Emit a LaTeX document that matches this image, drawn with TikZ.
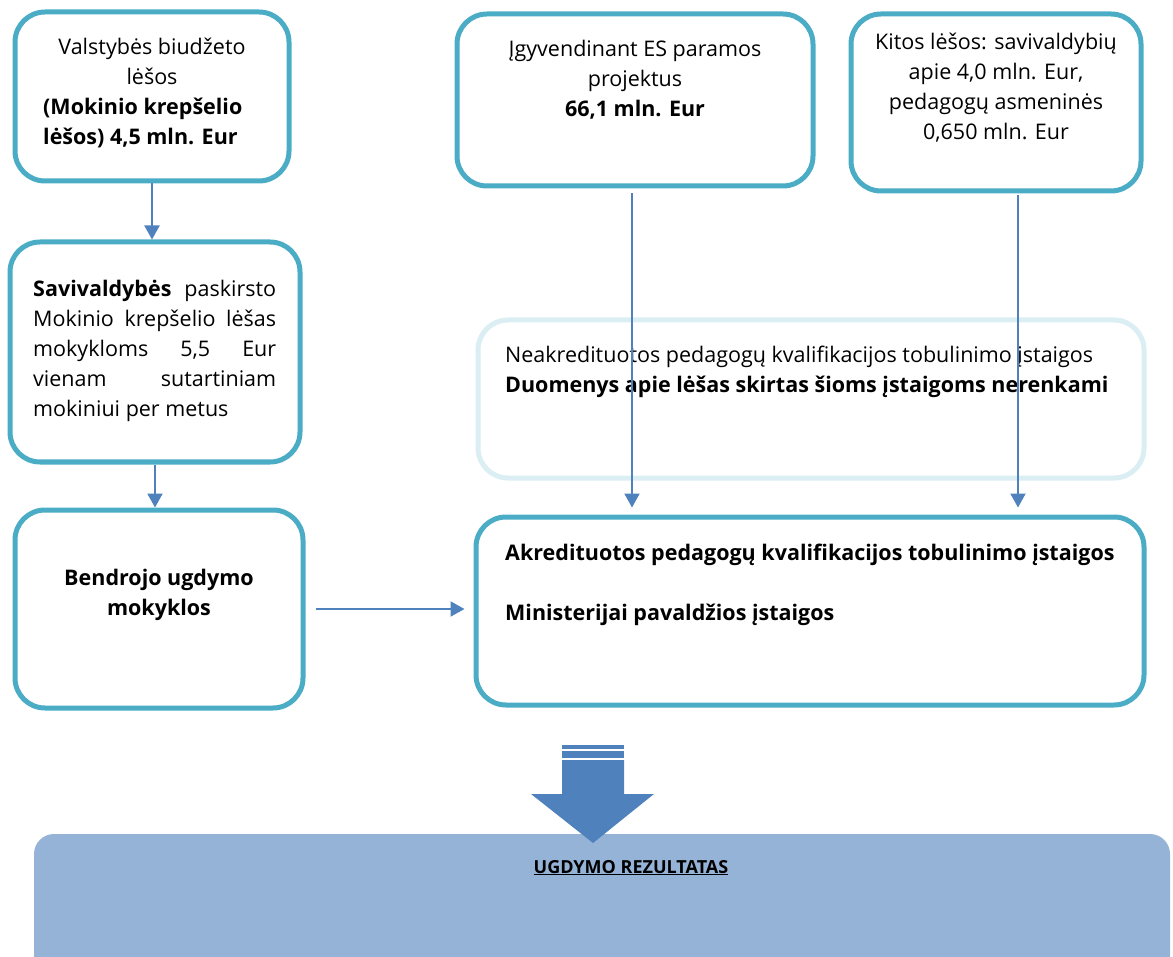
\documentclass[tikz,border=0pt]{standalone}
\usepackage{fontspec}
\setmainfont{Open Sans}
\usetikzlibrary{arrows.meta,fit}
\definecolor{boxteal}{HTML}{4BACC6}
\definecolor{lightteal}{HTML}{DAEEF3}
\definecolor{arrowblue}{HTML}{4F81BD}
\definecolor{resultfill}{HTML}{95B3D7}
\tikzset{
  tealbox/.style={draw=boxteal, line width=5pt, rounded corners=30pt, fill=white, inner sep=0pt},
  lightbox/.style={draw=lightteal, line width=5pt, rounded corners=30pt, fill=white, inner sep=0pt},
  conn/.style={draw=arrowblue, line width=2pt, -{Triangle[length=14pt,width=15pt]}},
  txt/.style={inner sep=0pt, font=\fontsize{21.5}{26}\selectfont},
  txtb/.style={txt, font=\fontsize{21.5}{26}\selectfont\bfseries},
  resulttxt/.style={inner sep=0pt, font=\fontsize{18}{22}\selectfont\bfseries},
}
\begin{document}
\begin{tikzpicture}[x=1pt,y=-1pt]
\useasboundingbox (0,0) rectangle (1173,957);
\clip (0,0) rectangle (1173,957);
% boxes
\node[tealbox, fit={(15,12) (289,181)}] (A) {};
\node[tealbox, fit={(10,242) (300,462)}] (B) {};
\node[tealbox, fit={(15,510) (303,708)}] (C) {};
\node[tealbox, fit={(457,14) (813,186)}] (D) {};
\node[tealbox, fit={(851,14) (1141,191)}] (E) {};
\node[lightbox, fit={(478,320) (1144,478)}] (F) {};
\node[tealbox, fit={(476,517) (1144,705)}] (G) {};
\node[fill=resultfill, rounded corners=20pt, inner sep=0pt, fit={(34,834) (1170,1000)}] (H) {};
% texts
\node[txt, anchor=base] (a1) at (152,55) {Valstybės biudžeto};
\node[txt, anchor=base] (a2) at (152,85) {lėšos};
\node[txtb, anchor=base west] (a3) at (43,115) {(Mokinio krepšelio};
\node[txtb, anchor=base west] (a4) at (43,145) {lėšos) 4,5 mln. Eur};
\node[txt, anchor=base west] (b1) at (33,297) {\makebox[243pt][s]{\textbf{Savivaldybės} paskirsto}};
\node[txt, anchor=base west] (b2) at (33,327) {\makebox[243pt][s]{Mokinio krepšelio lėšas}};
\node[txt, anchor=base west] (b3) at (33,357) {\makebox[243pt][s]{mokykloms 5,5 Eur}};
\node[txt, anchor=base west] (b4) at (33,387) {\makebox[243pt][s]{vienam sutartiniam}};
\node[txt, anchor=base west] (b5) at (33,417) {mokiniui per metus};
\node[txtb, anchor=base] (c1) at (159,585) {Bendrojo ugdymo};
\node[txtb, anchor=base] (c2) at (159,615) {mokyklos};
\node[txt, anchor=base] (d1) at (635,57) {Įgyvendinant ES paramos};
\node[txt, anchor=base] (d2) at (635,87) {projektus};
\node[txtb, anchor=base] (d3) at (635,117) {66,1 mln. Eur};
\node[txt, anchor=base] (e1) at (996,50) {Kitos lėšos: savivaldybių};
\node[txt, anchor=base] (e2) at (996,80) {apie 4,0 mln. Eur,};
\node[txt, anchor=base] (e3) at (996,110) {pedagogų asmeninės};
\node[txt, anchor=base] (e4) at (996,140) {0,650 mln. Eur};
\node[txt, anchor=base west] (f1) at (505,363) {Neakredituotos pedagogų kvalifikacijos tobulinimo įstaigos};
\node[txtb, anchor=base west] (f2) at (505,393) {Duomenys apie lėšas skirtas šioms įstaigoms nerenkami};
\node[txtb, anchor=base west] (g1) at (505,560) {Akredituotos pedagogų kvalifikacijos tobulinimo įstaigos};
\node[txtb, anchor=base west] (g2) at (505,620) {Ministerijai pavaldžios įstaigos};
\node[resulttxt, anchor=base] (h1) at (631,873) {\underline{UGDYMO REZULTATAS}};
% connectors
\coordinate (dline) at (632,0);
\coordinate (eline) at (1018,0);
\draw[conn] (A.south) -- (A.south |- B.north);
\draw[conn] (B.south) -- (B.south |- C.north);
\draw[conn, shorten <=5pt, shorten >=7pt] (D.south -| dline) -- (G.north -| dline);
\draw[conn, shorten <=2pt, shorten >=7pt] (E.south -| eline) -- (G.north -| eline);
\draw[conn, shorten <=10pt, shorten >=9pt] (C.east) -- (C.east -| G.west);
% big arrow
\fill[arrowblue] (562,745) rectangle (624,749);
\fill[arrowblue] (562,751) rectangle (624,758);
\fill[arrowblue] (562,760) -- (624,760) -- (624,794) -- (654,794) -- (593,843) -- (531,794) -- (562,794) -- cycle;
\end{tikzpicture}
\end{document}
